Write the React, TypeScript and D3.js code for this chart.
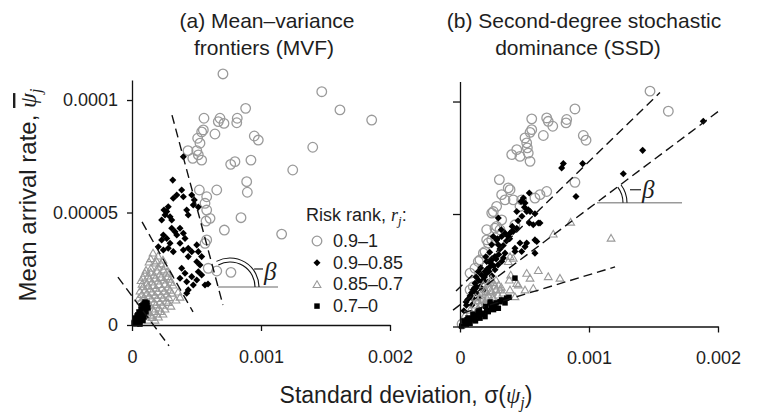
import React, { useEffect, useRef } from 'react';
import * as d3 from 'd3';

// values: standard deviation in units of 1e-4, mean arrival rate in units of 1e-5
const SD_UNIT = 1e-4;
const MEAN_UNIT = 1e-5;

const rankLabels = ['0.9–1', '0.9–0.85', '0.85–0.7', '0.7–0'];
const sdTicks = [0, 0.001, 0.002];
const sdTickLabels = ['0', '0.001', '0.002'];
const meanTicks = [0, 0.00005, 0.0001];
const meanTickLabels = ['0', '0.00005', '0.0001'];

// (a) mean-variance frontiers
const mvfRank1 = [
  [7.05, 11.16], [14.71, 10.37], [16.12, 9.56], [18.58, 9.11], [8.81, 9.63], [6.82, 9.19], [6.69, 9.04],
  [5.58, 9.19], [7.13, 8.96], [8.16, 9.19], [8.12, 8.99], [5.53, 8.67], [5.4, 8.58], [6.43, 8.49],
  [5.09, 8.3], [5.27, 8.08], [9.48, 8.4], [9.79, 8.22], [14.01, 7.9], [4.34, 7.75], [5.02, 7.75],
  [5.14, 7.56], [4.71, 7.41], [5.4, 7.33], [7.65, 7.14], [7.98, 7.26], [9.22, 7.33], [12.46, 6.89],
  [8.89, 6.37], [8.94, 5.9], [5.22, 6.0], [6.57, 6.0], [5.79, 5.7], [5.66, 5.41], [5.79, 5.11],
  [6.05, 4.74], [5.74, 4.62], [8.45, 4.77], [7.16, 4.22], [11.6, 4.04], [5.79, 3.78], [5.66, 3.63],
  [5.91, 2.52], [6.57, 2.4], [7.67, 2.34],
];
const mvfRank2 = [
  [3.98, 7.48], [3.16, 6.44], [3.85, 6.0], [3.47, 5.78], [3.98, 5.7], [4.63, 5.78], [4.83, 5.56],
  [3.2, 5.63], [4.75, 5.33], [2.81, 5.26], [2.69, 5.04], [2.95, 4.81], [3.08, 4.67], [4.24, 5.11],
  [4.36, 4.89], [5.14, 5.24], [2.48, 5.11], [2.56, 4.89], [2.3, 4.67], [3.08, 4.3], [3.33, 4.15],
  [3.72, 4.3], [3.98, 4.08], [3.47, 4.0], [4.11, 3.85], [2.43, 4.0], [2.3, 3.78], [2.69, 3.85],
  [2.95, 3.63], [2.04, 3.48], [2.43, 3.33], [2.81, 3.41], [3.2, 3.26], [3.72, 3.63], [3.98, 3.33],
  [4.36, 3.41], [4.63, 3.26], [4.36, 3.04], [5.02, 3.56], [5.14, 3.26], [5.4, 3.04], [5.27, 2.67],
  [5.02, 2.81], [3.85, 2.52], [4.11, 2.3], [3.72, 2.08], [4.24, 1.92], [4.63, 2.15], [5.02, 2.0],
  [5.14, 2.37], [5.4, 2.22], [5.66, 1.78], [4.36, 1.56], [4.24, 1.41], [4.75, 1.78], [5.89, 1.82],
];
const mvfRank3 = [
  [1.63, 3.2], [2.02, 3.07], [2.4, 2.89], [1.32, 2.8], [1.78, 2.76], [1.09, 2.44], [1.47, 2.53],
  [2.02, 2.58], [2.56, 2.62], [0.85, 2.13], [1.24, 2.18], [1.71, 2.22], [2.17, 2.27], [2.71, 2.36],
  [0.78, 1.82], [1.16, 1.87], [1.55, 1.91], [2.02, 1.96], [2.48, 2.0], [2.95, 2.04], [0.62, 1.51],
  [1.01, 1.56], [1.4, 1.6], [1.86, 1.64], [2.33, 1.64], [2.79, 1.69], [3.18, 1.78], [0.54, 1.2],
  [0.93, 1.24], [1.32, 1.29], [1.78, 1.33], [2.25, 1.33], [2.71, 1.38], [3.1, 1.42], [3.41, 1.11],
  [3.72, 1.24], [0.85, 0.93], [1.24, 0.98], [1.71, 1.02], [2.17, 1.02], [2.64, 1.07], [3.02, 0.84],
  [1.16, 0.67], [1.63, 0.71], [2.09, 0.76], [2.56, 0.71], [1.47, 0.44], [1.94, 0.49], [2.4, 0.49],
  [1.24, 0.22], [1.78, 0.22], [3.57, 1.47],
  [1.45, 2.95], [1.9, 2.85], [2.25, 2.72], [1.0, 2.3], [1.45, 2.35], [1.95, 2.4], [2.45, 2.45],
  [2.9, 2.3], [0.7, 1.98], [1.35, 2.05], [1.8, 2.08], [2.25, 2.12], [2.75, 2.15], [0.85, 1.7],
  [1.25, 1.73], [1.65, 1.76], [2.1, 1.8], [2.55, 1.82], [3.0, 1.9], [0.75, 1.36], [1.15, 1.42],
  [1.55, 1.46], [2.0, 1.48], [2.5, 1.5], [2.95, 1.55], [0.7, 1.08], [1.05, 1.12], [1.5, 1.16],
  [1.95, 1.18], [2.4, 1.2], [2.85, 1.22], [1.0, 0.82], [1.4, 0.86], [1.85, 0.9], [2.35, 0.88],
  [2.8, 1.0], [1.3, 0.55], [1.7, 0.6], [2.2, 0.6], [1.55, 0.34], [2.05, 0.36], [1.05, 0.4],
];
const mvfRank4 = [
  [0.16, 0.09], [0.31, 0.18], [0.47, 0.27], [0.39, 0.4], [0.62, 0.4], [0.54, 0.58], [0.78, 0.53],
  [0.7, 0.71], [0.93, 0.71], [0.85, 0.89], [1.09, 0.84], [1.01, 1.02], [1.16, 0.98], [0.23, 0.31],
  [0.47, 0.13], [0.7, 0.22], [0.93, 0.36], [1.09, 0.58], [1.24, 0.76], [0.62, 0.04],
  [0.3, 0.05], [0.5, 0.2], [0.75, 0.35], [0.8, 0.6], [1.0, 0.75], [1.05, 0.95], [0.6, 0.55],
  [0.45, 0.45], [0.3, 0.25], [0.9, 0.5], [1.15, 0.85], [0.2, 0.15], [0.55, 0.35], [0.75, 0.85],
  [0.95, 0.95], [0.4, 0.08], [0.85, 0.2], [0.6, 0.15],
];
// [sd0, mean0, sd1, mean1]
const mvfFrontiers = [
  [3.1, 9.33, 7.05, 0.89],
  [0.78, 4.58, 4.73, 0.58],
  [-1.09, 2.13, 2.87, -0.93],
];

// (b) second-degree stochastic dominance
const ssdRank1 = [
  [14.73, 10.46], [16.15, 9.57], [8.91, 9.67], [5.56, 9.23], [6.72, 9.27], [6.84, 9.12], [8.27, 9.2],
  [8.22, 9.05], [5.56, 8.75], [5.43, 8.63], [7.19, 8.9], [6.46, 8.49], [9.56, 8.49], [9.77, 8.28],
  [5.04, 8.38], [5.17, 8.16], [5.22, 7.94], [4.4, 7.86], [4.01, 7.64], [4.65, 7.56], [5.43, 7.34],
  [5.29, 7.71], [3.05, 6.53], [3.74, 6.16], [3.88, 6.08], [8.91, 6.41], [6.72, 6.0], [3.23, 5.86],
  [3.49, 5.63], [4.13, 5.63], [4.78, 5.63], [5.81, 5.71], [2.84, 5.34], [2.58, 5.11], [4.65, 5.34],
  [2.84, 4.45], [3.1, 4.3], [4.26, 4.52], [2.07, 3.85], [1.81, 3.26], [1.55, 2.96], [1.03, 1.77],
  [0.78, 1.63], [0.16, 0.11], [6.2, 5.86], [2.46, 5.04], [3.23, 4.74], [2.46, 3.85], [2.19, 3.71],
  [1.94, 3.33], [1.42, 2.89], [1.16, 2.59], [0.78, 2.37], [2.07, 4.3], [2.71, 4.37],
];
const ssdRank2 = [
  [18.86, 9.12], [14.16, 7.83], [12.66, 6.79], [8.99, 5.78], [9.51, 7.24], [8.01, 7.24], [7.88, 7.05],
  [5.37, 5.93], [4.73, 5.56], [5.04, 5.49], [5.29, 5.19], [5.43, 5.11], [5.81, 5.01], [5.37, 4.6],
  [6.07, 4.6], [4.4, 4.37], [4.01, 4.22], [3.88, 4.15], [2.97, 4.82], [2.58, 4.0], [3.23, 4.0],
  [5.95, 3.78], [5.17, 3.71], [5.81, 3.26], [4.78, 3.33], [4.26, 3.48], [4.65, 3.71], [3.49, 3.26],
  [3.36, 3.04], [3.23, 2.89], [2.71, 3.11], [2.46, 2.96], [2.33, 2.66], [2.07, 2.37], [1.81, 2.07],
  [1.42, 2.44], [4.91, 5.71], [4.4, 5.11], [5.17, 5.11], [5.68, 4.52], [6.2, 4.6], [3.49, 4.15],
  [4.13, 4.22], [3.74, 4.0], [2.84, 3.85], [2.46, 3.63], [2.97, 3.63], [5.04, 3.55], [5.81, 3.85],
  [4.26, 3.33], [2.07, 2.89], [1.94, 2.44], [1.68, 2.29], [1.16, 1.92], [1.55, 1.77], [1.03, 1.63],
  [0.78, 1.36], [0.47, 1.09], [1.24, 1.49], [2.17, 1.98], [2.48, 2.25], [2.71, 2.52], [2.95, 2.74],
  [1.86, 1.63], [1.47, 1.27], [0.93, 0.96],
  [0.6, 1.2], [0.9, 1.5], [1.1, 1.7], [1.3, 1.75], [1.45, 2.05], [1.7, 2.0], [1.9, 2.2], [2.1, 2.55],
  [2.25, 2.45], [2.4, 2.8], [2.6, 2.7], [2.8, 3.0], [3.0, 3.2], [3.1, 3.45], [3.35, 3.6], [3.6, 3.8],
  [3.85, 3.9], [4.05, 4.45], [4.5, 4.7], [4.8, 4.9], [5.0, 5.3], [2.0, 3.1], [2.3, 3.3], [1.6, 2.6],
  [2.9, 3.9], [3.2, 4.3], [0.3, 0.7], [0.5, 0.95], [1.0, 1.25], [1.25, 2.2],
];
const ssdRank3 = [
  [8.58, 4.64], [11.71, 3.93], [7.23, 4.11], [3.88, 3.11], [6.07, 2.49], [5.17, 2.37], [6.84, 2.22],
  [7.75, 2.15], [5.43, 2.15], [3.93, 2.29], [3.82, 2.07], [3.88, 1.63], [4.26, 1.33], [5.68, 1.7],
  [5.04, 1.63], [4.52, 1.85], [4.13, 3.04], [3.74, 2.89], [4.4, 1.92], [1.94, 1.63], [2.33, 1.71],
  [2.71, 1.8], [3.1, 1.63], [2.17, 1.4], [2.56, 1.31], [2.95, 1.4], [1.55, 1.27], [1.94, 1.09],
  [1.16, 0.96], [0.78, 0.73], [1.4, 0.82], [0.39, 0.51], [2.48, 1.54], [3.33, 1.49], [2.33, 1.98],
  [2.79, 2.07],
  [1.7, 1.5], [2.0, 1.55], [2.4, 1.6], [2.8, 1.65], [1.8, 1.85], [2.2, 1.9], [2.6, 1.95], [3.0, 1.85],
  [1.4, 1.15], [1.75, 1.2], [2.1, 1.25], [2.6, 1.2], [1.2, 1.3], [2.4, 2.1], [3.2, 1.75], [2.0, 1.05],
  [1.6, 0.95],
];
const ssdRank4 = [
  [4.26, 2.15], [3.62, 1.26], [3.23, 1.18], [2.71, 0.96], [2.46, 0.81], [2.07, 0.73], [1.68, 0.59],
  [1.16, 0.44], [0.78, 0.29], [0.39, 0.14], [2.97, 0.81], [2.19, 0.66], [1.94, 0.44], [1.55, 0.37],
  [0.78, 0.14], [0.13, 0.02], [3.49, 1.05], [2.33, 1.09], [1.4, 0.65], [0.62, 0.38],
  [0.3, 0.25], [0.55, 0.3], [0.9, 0.35], [1.3, 0.5], [1.0, 0.55], [1.8, 0.55], [2.0, 0.9], [2.6, 0.75],
  [2.8, 1.05], [3.1, 1.1], [3.8, 1.3], [1.5, 0.7], [0.5, 0.1], [1.2, 0.25], [2.4, 1.0],
];
const ssdFrontiers = [
  [-0.31, 1.58, 15.5, 10.4],
  [-0.54, 0.73, 20.0, 9.55],
  [0.23, 0.6, 12.02, 2.65],
];

const FONT = '"Liberation Sans", Arial, sans-serif';
const SERIF = '"Liberation Serif", "Times New Roman", serif';
const GREY = '#9a9a9a';
const INK = '#1e1e1e';
const MEAN_MAX = 1.089e-4;

const panels = [
  {
    id: 'a',
    titles: ['(a) Mean–variance', 'frontiers (MVF)'],
    titleX: [267, 264],
    xRange: [132, 390],
    yRange: [325, 80],
    yLabels: true,
    ranks: [mvfRank1, mvfRank2, mvfRank3, mvfRank4],
    frontiers: mvfFrontiers,
    beta: { sd: 7.6, mean: 1.69, lineFrom: 6.67, lineTo: 11.32, angle: 118, radii: [29, 25], dash: [24, 33, -18], text: [34, -7] },
    legend: true,
  },
  {
    id: 'b',
    titles: ['(b) Second-degree stochastic', 'dominance (SSD)'],
    titleX: [584, 578],
    xRange: [460, 718],
    yRange: [326.5, 81.5],
    yLabels: false,
    ranks: [ssdRank1, ssdRank2, ssdRank3, ssdRank4],
    frontiers: ssdFrontiers,
    beta: { sd: 10.62, mean: 5.5, lineFrom: 10.62, lineTo: 17.21, angle: 37, radii: [30, 26], dash: [33, 44, -13], text: [45, -5] },
    legend: false,
  },
];

const diamondPath = d3.symbol(d3.symbolSquare, 25)() as string;
const trianglePath = d3.symbol(d3.symbolTriangle, 26)() as string;
const squarePath = d3.symbol(d3.symbolSquare, 30)() as string;

function Marker({ kind, x, y }: { kind: number; x: number; y: number }) {
  if (kind === 0) return <circle cx={x} cy={y} r={4.8} fill="none" stroke={GREY} strokeWidth={1.3} />;
  if (kind === 1) return <path d={diamondPath} transform={`translate(${x},${y}) rotate(45)`} fill="#000" />;
  if (kind === 2) return <path d={trianglePath} transform={`translate(${x},${y + 0.8})`} fill="none" stroke={GREY} strokeWidth={1.1} />;
  return <path d={squarePath} transform={`translate(${x},${y})`} fill="#000" />;
}

function Panel({ p }: { p: any }) {
  const xAxisRef = useRef<SVGGElement>(null);
  const yAxisRef = useRef<SVGGElement>(null);
  const x = d3.scaleLinear().domain([0, 0.002]).range(p.xRange);
  const y = d3.scaleLinear().domain([0, MEAN_MAX]).range(p.yRange);

  useEffect(() => {
    const gx = d3.select(xAxisRef.current);
    gx.selectAll('*').remove();
    gx.call(
      d3.axisBottom(x).tickValues(sdTicks).tickSize(6).tickSizeOuter(0).tickPadding(19)
        .tickFormat((d, i) => sdTickLabels[i])
    );
    const gy = d3.select(yAxisRef.current);
    gy.selectAll('*').remove();
    gy.call(
      d3.axisLeft(y).tickValues(meanTicks).tickSize(p.yLabels ? 5 : 7).tickSizeOuter(0).tickPadding(9)
        .tickFormat((d, i) => (p.yLabels ? meanTickLabels[i] : ''))
    );
    [gx, gy].forEach(g => {
      g.attr('font-size', 18).attr('font-family', FONT);
      g.selectAll('path, line').attr('stroke', '#111').attr('stroke-width', 1.3);
      g.selectAll('text').attr('fill', INK);
    });
  }, []);

  const b = p.beta;
  const cx = x(b.sd * SD_UNIT);
  const cy = y(b.mean * MEAN_UNIT);
  const rad = (b.angle * Math.PI) / 180;
  const arcs = b.radii.map((r: number) => {
    const path = d3.path();
    path.moveTo(cx + r, cy);
    path.arc(cx, cy, r, 0, -rad, true);
    return path.toString();
  });

  return (
    <g>
      {p.titles.map((t: string, i: number) => (
        <text key={t} x={p.titleX[i]} y={28 + i * 27} textAnchor="middle" fontSize={21} fontFamily={FONT} fill={INK}>
          {t}
        </text>
      ))}
      <line x1={x(b.lineFrom * SD_UNIT)} x2={x(b.lineTo * SD_UNIT)} y1={cy} y2={cy} stroke={GREY} strokeWidth={1.3} />
      {arcs.map((d: string, i: number) => (
        <path key={i} d={d} fill="none" stroke="#111" strokeWidth={1.1} />
      ))}
      <line x1={cx + b.dash[0]} x2={cx + b.dash[1]} y1={cy + b.dash[2]} y2={cy + b.dash[2]} stroke="#111" strokeWidth={1.1} />
      <text x={cx + b.text[0]} y={cy + b.text[1]} fontSize={25} fontStyle="italic" fontFamily={SERIF} fill={INK}>β</text>
      {p.ranks.map((set: number[][], k: number) => (
        <g key={k}>
          {set.map((d, i) => (
            <Marker key={i} kind={k} x={x(d[0] * SD_UNIT)} y={y(d[1] * MEAN_UNIT)} />
          ))}
        </g>
      ))}
      {p.frontiers.map((f: number[], i: number) => (
        <line key={i} x1={x(f[0] * SD_UNIT)} y1={y(f[1] * MEAN_UNIT)} x2={x(f[2] * SD_UNIT)} y2={y(f[3] * MEAN_UNIT)}
          stroke="#111" strokeWidth={1.4} strokeDasharray="9 5" />
      ))}
      <g ref={xAxisRef} transform={`translate(0,${p.yRange[0]})`} />
      <g ref={yAxisRef} transform={`translate(${p.xRange[0]},0)`} />
      {p.legend && (
        <g fontFamily={FONT} fontSize={18} fill={INK}>
          <text x={306} y={221}>
            Risk rank, <tspan fontFamily={SERIF} fontStyle="italic">r</tspan>
            <tspan fontFamily={SERIF} fontStyle="italic" fontSize={13} dy={4}>j</tspan>
            <tspan dy={-4}>:</tspan>
          </text>
          {rankLabels.map((l, i) => (
            <g key={l}>
              <Marker kind={i} x={317} y={241 + i * 21.7} />
              <text x={333} y={247 + i * 21.7}>{l}</text>
            </g>
          ))}
        </g>
      )}
    </g>
  );
}

export default function App() {
  return (
    <svg width={766} height={415} style={{ display: 'block', position: 'absolute', left: 0, top: 0, background: '#fff' }}>
      {panels.map(p => (
        <Panel key={p.id} p={p} />
      ))}
      <text transform="translate(36,195) rotate(-90)" textAnchor="middle" fontSize={24} fontFamily={FONT} fill={INK}>
        Mean arrival rate, <tspan fontFamily={SERIF} fontStyle="italic" style={{ textDecoration: 'overline' }}>ψ</tspan>
        <tspan fontFamily={SERIF} fontStyle="italic" fontSize={16} dy={5}>j</tspan>
      </text>
      <text x={406} y={403} textAnchor="middle" fontSize={23} fontFamily={FONT} fill={INK}>
        Standard deviation, σ(<tspan fontFamily={SERIF} fontStyle="italic">ψ</tspan>
        <tspan fontFamily={SERIF} fontStyle="italic" fontSize={16} dy={5}>j</tspan>
        <tspan dy={-5}>)</tspan>
      </text>
    </svg>
  );
}
